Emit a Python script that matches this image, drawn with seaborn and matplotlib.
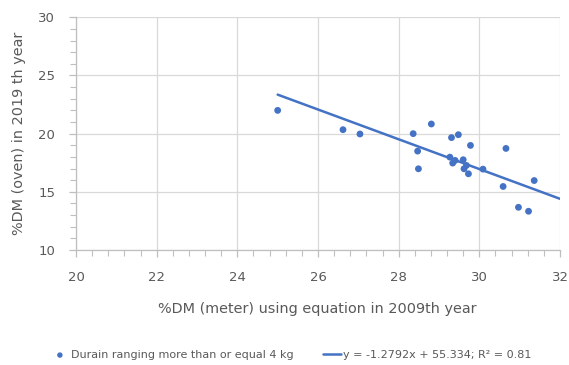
import matplotlib
matplotlib.use("Agg")
import matplotlib.pyplot as plt
import seaborn as sns
import numpy as np
import pandas as pd
from matplotlib.ticker import MultipleLocator

# Data
meter_dm = [25.0, 26.62, 27.04, 28.36, 28.81, 29.31, 29.48, 29.78, 30.66,
            28.47, 28.49, 29.27, 29.34, 29.40, 29.60, 29.62, 29.68, 29.73,
            30.09, 30.59, 31.36, 30.97, 31.22]
oven_dm = [22.0, 20.34, 19.97, 20.0, 20.83, 19.66, 19.91, 18.99, 18.73,
           18.50, 16.98, 17.98, 17.47, 17.70, 17.76, 16.98, 17.27, 16.55,
           16.95, 15.46, 15.97, 13.67, 13.33]
slope = -1.2792
intercept = 55.334
trend_x = [25.0, 32.0]
trend_y = [slope * v + intercept for v in trend_x]
series_label = "Durain ranging more than or equal 4 kg"
trend_label = "y = -1.2792x + 55.334; R\u00b2 = 0.81"
x_title = "%DM (meter) using equation in 2009th year"
y_title = "%DM (oven) in 2019 th year"

sns.set_theme(style="white")
plt.rcParams['font.family'] = ['DejaVu Sans']

blue = "#4472C4"
grey_txt = "#595959"

W, H = 569, 365
fig = plt.figure(figsize=(W / 100, H / 100), dpi=100)
ax = fig.add_axes([76 / W, 1 - 250 / H, (560 - 76) / W, (250 - 17.3) / H])

df = pd.DataFrame({"x": meter_dm, "y": oven_dm})
tr = pd.DataFrame({"x": trend_x, "y": trend_y})
sns.scatterplot(data=df, x="x", y="y", ax=ax, color=blue, s=24,
                edgecolor="none", label=series_label, zorder=3)
sns.lineplot(data=tr, x="x", y="y", ax=ax, color=blue, linewidth=1.8,
             label=trend_label, zorder=2)

ax.set_xlim(20, 32)
ax.set_ylim(10, 30)
ax.xaxis.set_major_locator(MultipleLocator(2))
ax.xaxis.set_minor_locator(MultipleLocator(0.4))
ax.yaxis.set_major_locator(MultipleLocator(5))
ax.yaxis.set_minor_locator(MultipleLocator(1))
ax.grid(True, which="major", color="#d9d9d9", linewidth=0.9)
ax.set_axisbelow(True)
for s in ["top", "right"]:
    ax.spines[s].set_visible(False)
for s in ["left", "bottom"]:
    ax.spines[s].set_color("#bfbfbf")
    ax.spines[s].set_linewidth(0.9)
ax.tick_params(axis="both", which="both", direction="out", color="#bfbfbf",
               labelcolor=grey_txt, labelsize=9.5)
ax.tick_params(axis="both", which="major", length=5, width=0.9)
ax.tick_params(axis="both", which="minor", length=4, width=0.8)
ax.tick_params(axis="x", which="both", bottom=True)
ax.tick_params(axis="x", which="major", pad=10)
ax.tick_params(axis="y", which="both", left=True)
ax.tick_params(axis="y", which="major", pad=10)

ax.set_xlabel(x_title, color=grey_txt, fontsize=10.4)
ax.set_ylabel(y_title, color=grey_txt, fontsize=10.4)
ax.xaxis.set_label_coords((317 - 76) / 484, (250 - 302) / 232.7)
ax.yaxis.set_label_coords((26 - 76) / 484, 0.5)

ax.get_legend().remove()
handles, labels = ax.get_legend_handles_labels()
fig.legend(handles, labels, loc="center left",
           bbox_to_anchor=(51 / W, 1 - 355 / H), ncol=2,
           frameon=False, fontsize=8, labelcolor=grey_txt, handlelength=1.6,
           columnspacing=2.65, handletextpad=0.2, markerscale=0.8,
           borderaxespad=0, borderpad=0)

fig.savefig("out.png", dpi=100)
